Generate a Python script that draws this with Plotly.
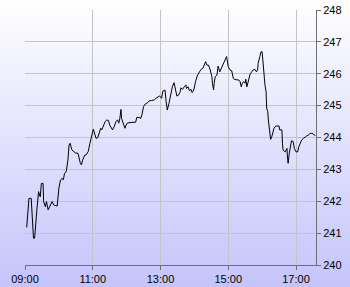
import base64
import datetime as dt
import plotly.graph_objects as go

# ---- data ----
minutes_after_open = [
    3, 7, 11, 13, 15, 17, 19, 21, 24, 27, 29, 32, 33, 36, 38, 41, 45, 48, 51, 57,
    60, 63, 66, 68, 70, 73, 76, 78, 80, 83, 89, 94, 98, 100, 102, 106, 108, 112, 115, 118,
    121, 124, 126, 129, 132, 134, 136, 139, 142, 145, 148, 150, 153, 155, 158, 161, 164, 166, 168, 170,
    171, 173, 175, 177, 179, 181, 186, 192, 196, 198, 202, 205, 207, 210, 213, 217, 220, 224, 229, 232,
    235, 238, 240, 242, 244, 248, 250, 252, 255, 258, 261, 264, 267, 269, 272, 275, 276, 279, 282, 285,
    286, 289, 291, 294, 296, 299, 302, 305, 309, 312, 315, 318, 320, 322, 325, 328, 331, 332, 334, 335,
    337, 340, 342, 345, 348, 351, 354, 357, 360, 363, 366, 369, 372, 377, 379, 381, 383, 385, 387, 390,
    391, 393, 396, 397, 399, 402, 404, 407, 410, 412, 413, 416, 418, 420, 422, 424, 425, 427, 428, 430,
    431, 433, 435, 437, 439, 441, 444, 448, 450, 451, 455, 456, 457, 461, 464, 465, 466, 468, 471, 472,
    475, 477, 480, 483, 485, 488, 490, 493, 496, 499, 502, 505, 508, 511, 514,
]
prices = [
    241.18, 242.09, 242.09, 241.41, 240.84, 240.84, 241.41, 241.73, 242.30, 242.14, 242.56, 242.56, 241.99, 241.83, 241.99, 241.73, 241.88, 241.99, 241.88, 241.85,
    242.41, 242.67, 242.72, 242.67, 242.88, 242.93, 243.29, 243.76, 243.82, 243.61, 243.52, 243.50, 243.19, 243.14, 243.29, 243.45, 243.45, 243.56, 243.82, 244.02,
    244.26, 244.08, 243.97, 244.00, 244.18, 244.29, 244.24, 244.39, 244.50, 244.55, 244.53, 244.39, 244.29, 244.24, 244.34, 244.50, 244.55, 244.45, 244.60, 244.88,
    244.60, 244.50, 244.39, 244.29, 244.39, 244.45, 244.47, 244.47, 244.48, 244.63, 244.63, 244.60, 244.71, 244.97, 245.05, 245.09, 245.15, 245.16, 245.18, 245.23,
    245.28, 245.30, 245.28, 245.23, 245.45, 245.49, 245.12, 244.86, 245.07, 245.33, 245.59, 245.72, 245.49, 245.30, 245.33, 245.44, 245.56, 245.51, 245.59, 245.65,
    245.54, 245.59, 245.47, 245.51, 245.41, 245.49, 245.75, 245.93, 246.06, 246.14, 246.17, 246.33, 246.38, 246.27, 246.27, 246.12, 245.91, 245.70, 245.49, 245.70,
    245.91, 245.96, 246.24, 246.06, 246.17, 246.27, 246.38, 246.54, 246.22, 246.12, 246.10, 245.85, 245.82, 245.80, 245.80, 245.75, 245.59, 245.70, 245.75, 245.70,
    245.83, 245.59, 245.86, 245.91, 246.01, 246.06, 246.12, 246.14, 246.06, 246.12, 246.33, 246.54, 246.69, 246.69, 246.12, 245.86, 245.65, 245.44, 244.92, 244.81,
    244.55, 244.18, 243.94, 244.02, 244.18, 244.29, 244.36, 244.36, 244.36, 244.24, 244.24, 243.82, 243.61, 243.55, 243.66, 243.35, 243.19, 243.50, 243.82, 243.90,
    243.87, 243.66, 243.55, 243.55, 243.71, 243.87, 243.92, 243.97, 244.02, 244.05, 244.08, 244.13, 244.13, 244.11, 244.05,
]
session_day = "2024-01-02"
open_time = "09:00"
x_end = "17:35:24"
y_ticks = [240, 241, 242, 243, 244, 245, 246, 247, 248]

base = dt.datetime.fromisoformat(f"{session_day} {open_time}")
times = [base + dt.timedelta(minutes=m) for m in minutes_after_open]

W, H = 350, 287
ml, mr, mt, mb = 25, 34, 10, 22
pw, ph = W - ml - mr, H - mt - mb

svg = (
    f'<svg xmlns="http://www.w3.org/2000/svg" width="{W}" height="{H}" preserveAspectRatio="none">'
    '<defs><linearGradient id="g" x1="0" y1="0" x2="0" y2="1">'
    '<stop offset="0" stop-color="#ffffff"/><stop offset="1" stop-color="#c4c4fb"/>'
    '</linearGradient></defs>'
    f'<rect x="0" y="0" width="{W}" height="{H}" fill="url(#g)"/></svg>'
)
src = "data:image/svg+xml;base64," + base64.b64encode(svg.encode()).decode()

fig = go.Figure()
fig.add_trace(go.Scatter(x=times, y=prices, mode="lines",
                         line=dict(color="#000000", width=1), hoverinfo="skip"))

fig.add_layout_image(dict(source=src, xref="paper", yref="paper",
                          x=-ml / pw, y=1 + mt / ph, sizex=W / pw, sizey=H / ph,
                          xanchor="left", yanchor="top", sizing="stretch", layer="below"))

fig.update_layout(
    width=W, height=H,
    margin=dict(l=ml, r=mr, t=mt, b=mb, autoexpand=False),
    paper_bgcolor="#e0e0fd",
    plot_bgcolor="rgba(0,0,0,0)",
    showlegend=False,
    font=dict(family="Arial, Liberation Sans, sans-serif", size=11, color="#000000"),
    xaxis=dict(
        type="date", automargin=False,
        range=[base, dt.datetime.fromisoformat(f"{session_day} {x_end}")],
        tick0=base, dtick=2 * 3600 * 1000, tickformat="%H:%M",
        showgrid=True, gridcolor="#c4c4c4", gridwidth=1,
        showline=True, linecolor="#707070", linewidth=1,
        ticks="outside", ticklen=4, tickcolor="#707070",
        zeroline=False, fixedrange=True,
    ),
    yaxis=dict(
        side="right", automargin=False, range=[240, 248], tickvals=y_ticks,
        ticktext=[str(v) for v in y_ticks],
        showgrid=True, gridcolor="#c4c4c4", gridwidth=1,
        showline=True, linecolor="#707070", linewidth=1,
        ticks="outside", ticklen=4, tickcolor="#707070",
        zeroline=False, fixedrange=True,
    ),
)

fig.write_html("out.html", config={"displayModeBar": False})
